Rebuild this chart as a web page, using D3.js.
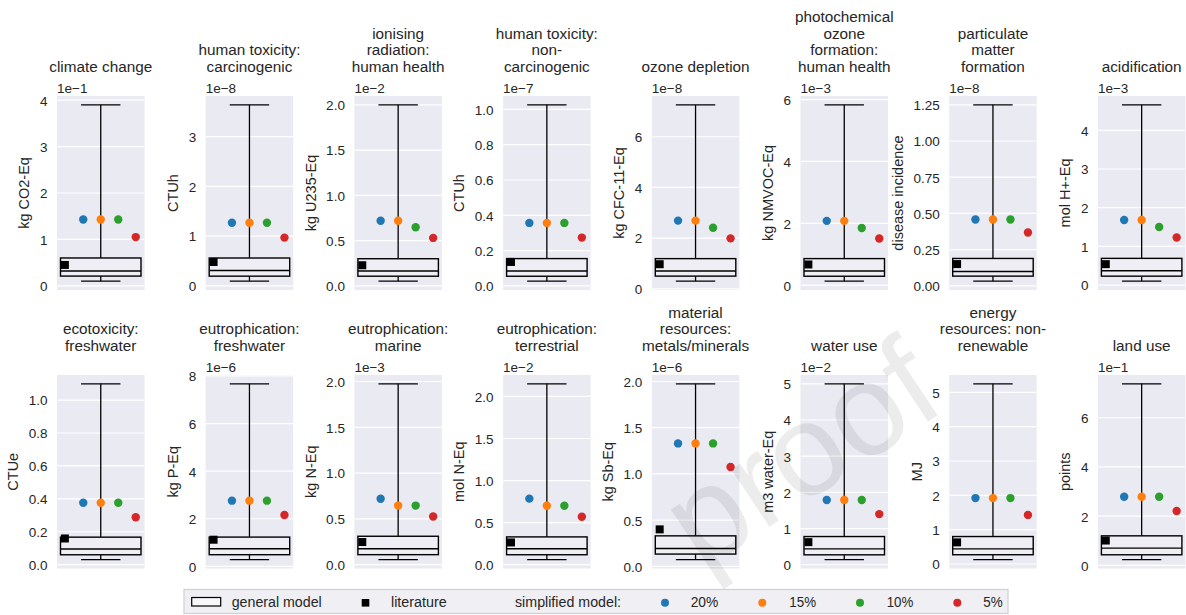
<!DOCTYPE html>
<html><head><meta charset="utf-8">
<script src="https://cdn.jsdelivr.net/npm/d3@7"></script>
<style>
body{margin:0;background:#fff;}
svg{display:block;font-family:"Liberation Sans",Arial,sans-serif;}
</style>
</head><body>
<svg id="chart" width="1186" height="615"></svg>
<script>
// ---------------- data ----------------
const titles = [
  ["climate change"],
  ["human toxicity:", "carcinogenic"],
  ["ionising", "radiation:", "human health"],
  ["human toxicity:", "non-", "carcinogenic"],
  ["ozone depletion"],
  ["photochemical", "ozone", "formation:", "human health"],
  ["particulate", "matter", "formation"],
  ["acidification"],
  ["ecotoxicity:", "freshwater"],
  ["eutrophication:", "freshwater"],
  ["eutrophication:", "marine"],
  ["eutrophication:", "terrestrial"],
  ["material", "resources:", "metals/minerals"],
  ["water use"],
  ["energy", "resources: non-", "renewable"],
  ["land use"]
];
const units = ["kg CO2-Eq", "CTUh", "kg U235-Eq", "CTUh", "kg CFC-11-Eq", "kg NMVOC-Eq",
  "disease incidence", "mol H+-Eq", "CTUe", "kg P-Eq", "kg N-Eq", "mol N-Eq", "kg Sb-Eq",
  "m3 water-Eq", "MJ", "points"];
const offsetLabels = ["1e\u22121", "1e\u22128", "1e\u22122", "1e\u22127", "1e\u22128", "1e\u22123", "1e\u22128", "1e\u22123",
  "", "1e\u22126", "1e\u22123", "1e\u22122", "1e\u22126", "1e\u22122", "", "1e\u22121"];
const tickLabels = [
  ["0", "1", "2", "3", "4"],
  ["0", "1", "2", "3"],
  ["0.0", "0.5", "1.0", "1.5", "2.0"],
  ["0.0", "0.2", "0.4", "0.6", "0.8", "1.0"],
  ["0", "2", "4", "6"],
  ["0", "2", "4", "6"],
  ["0.00", "0.25", "0.50", "0.75", "1.00", "1.25"],
  ["0", "1", "2", "3", "4"],
  ["0.0", "0.2", "0.4", "0.6", "0.8", "1.0"],
  ["0", "2", "4", "6", "8"],
  ["0.0", "0.5", "1.0", "1.5", "2.0"],
  ["0.0", "0.5", "1.0", "1.5", "2.0"],
  ["0.0", "0.5", "1.0", "1.5", "2.0"],
  ["0", "1", "2", "3", "4", "5"],
  ["0", "1", "2", "3", "4", "5"],
  ["0", "2", "4", "6"]
];
// general model box plot (values in axis units, i.e. after the offset factor)
const whiskerLow  = [0.10, 0.094, 0.052, 0.027, 0.30, 0.13, 0.032, 0.10, 0.030, 0.28, 0.054, 0.059, 0.072, 0.14, 0.125, 0.23];
const q1          = [0.21, 0.195, 0.107, 0.055, 0.50, 0.29, 0.067, 0.23, 0.060, 0.49, 0.109, 0.118, 0.133, 0.275, 0.27, 0.43];
const median      = [0.32, 0.31, 0.165, 0.085, 0.70, 0.46, 0.099, 0.37, 0.095, 0.74, 0.174, 0.189, 0.194, 0.44, 0.44, 0.70];
const q3          = [0.60, 0.56, 0.30, 0.155, 1.19, 0.86, 0.189, 0.69, 0.167, 1.23, 0.31, 0.33, 0.33, 0.78, 0.80, 1.20];
const whiskerHigh = [3.90, 3.64, 2.00, 1.026, 7.26, 5.83, 1.25, 4.66, 1.099, 7.67, 1.975, 2.15, 1.975, 5.00, 5.25, 7.38];
const literature  = [0.45, 0.48, 0.228, 0.136, 0.97, 0.67, 0.15, 0.54, 0.159, 1.12, 0.247, 0.264, 0.40, 0.625, 0.63, 1.01];
// simplified model
const sim20 = [1.43, 1.27, 0.72, 0.357, 2.69, 2.08, 0.458, 1.68, 0.376, 2.76, 0.72, 0.785, 1.33, 1.79, 1.92, 2.79];
const sim15 = [1.43, 1.27, 0.72, 0.357, 2.69, 2.08, 0.458, 1.68, 0.376, 2.76, 0.645, 0.70, 1.33, 1.79, 1.92, 2.79];
const sim10 = [1.43, 1.27, 0.647, 0.357, 2.41, 1.85, 0.458, 1.50, 0.376, 2.76, 0.645, 0.70, 1.33, 1.79, 1.92, 2.79];
const sim5  = [1.05, 0.97, 0.53, 0.274, 1.99, 1.51, 0.368, 1.23, 0.288, 2.16, 0.525, 0.57, 1.075, 1.40, 1.43, 2.21];
const simSeries = ["20%", "15%", "10%", "5%"];
const simValues = [sim20, sim15, sim10, sim5];
const simColors = ["#1f77b4", "#ff7f0e", "#2ca02c", "#d62728"];

// ---------------- layout ----------------
const svg = d3.select("#chart");
const W = 87.5;
const rows = [{top: 96, bottom: 290}, {top: 375, bottom: 568.5}];
const textColor = "#262626";
const simOffsets = [-0.2, 0, 0.2, 0.4];

titles.forEach((t, i) => {
  const row = rows[Math.floor(i / 8)];
  const col = i % 8;
  const L = 57 + col * 148.7;
  const x = d3.scaleLinear().domain([-0.5, 0.5]).range([L, L + W]);
  const lo = whiskerLow[i], hi = whiskerHigh[i], r = hi - lo;
  const y = d3.scaleLinear().domain([lo - 0.05 * r, hi + 0.05 * r]).range([row.bottom, row.top]);
  const g = svg.append("g");

  // background
  g.append("rect").attr("x", L).attr("y", row.top).attr("width", W)
    .attr("height", row.bottom - row.top).attr("fill", "#eaeaf2");

  const tv = tickLabels[i].map(Number);
  // grid
  g.selectAll(".grid").data(tv).enter().append("line")
    .attr("x1", L).attr("x2", L + W)
    .attr("y1", d => y(d)).attr("y2", d => y(d))
    .attr("stroke", "#fff").attr("stroke-width", 1.2);

  // axis
  const ax = g.append("g").attr("transform", `translate(${L},0)`)
    .call(d3.axisLeft(y).tickValues(tv).tickFormat((d, j) => tickLabels[i][j]).tickSize(0).tickPadding(9.5));
  ax.select(".domain").remove();
  ax.selectAll("text").attr("font-size", 13.5).attr("fill", textColor)
    .attr("font-family", "'Liberation Sans',Arial,sans-serif").attr("dy", "0.36em");
  let maxW = 0;
  ax.selectAll("text").each(function () { maxW = Math.max(maxW, this.getComputedTextLength()); });

  // y label
  const ym = (row.top + row.bottom) / 2;
  const lx = L - 9.5 - maxW - 10.5;
  g.append("text").attr("transform", `translate(${lx},${ym}) rotate(-90)`)
    .attr("text-anchor", "middle").attr("font-size", 14.5).attr("fill", textColor)
    .text(units[i]);

  // offset text
  if (offsetLabels[i]) {
    g.append("text").attr("x", L).attr("y", row.top - 3.5)
      .attr("font-size", 13.5).attr("fill", textColor).text(offsetLabels[i]);
  }

  // title
  const n = t.length;
  t.forEach((line, k) => {
    g.append("text").attr("x", L + W / 2).attr("y", row.top - 24 - (n - 1 - k) * 16.7)
      .attr("text-anchor", "middle").attr("font-size", 15.3).attr("fill", textColor).text(line);
  });

  // whiskers
  g.append("line").attr("x1", x(0)).attr("x2", x(0)).attr("y1", y(lo)).attr("y2", y(q1[i]))
    .attr("stroke", "#000").attr("stroke-width", 1.3);
  g.append("line").attr("x1", x(0)).attr("x2", x(0)).attr("y1", y(q3[i])).attr("y2", y(hi))
    .attr("stroke", "#000").attr("stroke-width", 1.3);
  [lo, hi].forEach(v => {
    g.append("line").attr("x1", x(-0.225)).attr("x2", x(0.225)).attr("y1", y(v)).attr("y2", y(v))
      .attr("stroke", "#000").attr("stroke-width", 1.3);
  });
  // box
  g.append("rect").attr("x", x(-0.46)).attr("y", y(q3[i]))
    .attr("width", x(0.46) - x(-0.46)).attr("height", y(q1[i]) - y(q3[i]))
    .attr("fill", "#eeeef4").attr("stroke", "#000").attr("stroke-width", 1.4);
  g.append("line").attr("x1", x(-0.46)).attr("x2", x(0.46))
    .attr("y1", y(median[i])).attr("y2", y(median[i]))
    .attr("stroke", "#000").attr("stroke-width", 1.4);

  // literature
  g.append("rect").attr("x", x(-0.41) - 4).attr("y", y(literature[i]) - 4)
    .attr("width", 8).attr("height", 8).attr("fill", "#000");

  // simplified model points
  simValues.forEach((vals, s) => {
    g.append("circle").attr("cx", x(simOffsets[s])).attr("cy", y(vals[i])).attr("r", 4.2)
      .attr("fill", simColors[s]);
  });
});

// ---------------- legend ----------------
const lg = svg.append("g");
lg.append("rect").attr("x", 184).attr("y", 589.5).attr("width", 824).attr("height", 24)
  .attr("fill", "#efeff4").attr("stroke", "#cfcfd4").attr("stroke-width", 1.2);
lg.append("rect").attr("x", 191.7).attr("y", 597.5).attr("width", 29).attr("height", 8.5)
  .attr("fill", "#f7f7f9").attr("stroke", "#000").attr("stroke-width", 1.2);
lg.append("rect").attr("x", 361.7).attr("y", 599).attr("width", 7.6).attr("height", 7.6).attr("fill", "#000");
const legendTexts = [
  {t: "general model", x: 231.7, w: 90},
  {t: "literature", x: 391, w: 55.7},
  {t: "simplified model:", x: 515, w: 106}
];
const simLegendX = [665, 762.3, 860, 957.3];
const simLabelX = [{x: 690.7, w: 27.6}, {x: 789.3, w: 26.7}, {x: 886.7, w: 26.6}, {x: 983.3, w: 19.4}];
simSeries.forEach((s, k) => {
  lg.append("circle").attr("cx", simLegendX[k]).attr("cy", 602.7).attr("r", 4).attr("fill", simColors[k]);
  legendTexts.push({t: s, x: simLabelX[k].x, w: simLabelX[k].w});
});
legendTexts.forEach(d => {
  lg.append("text").attr("x", d.x).attr("y", 607.3).attr("font-size", 15.5).attr("fill", textColor)
    .attr("textLength", d.w).attr("lengthAdjust", "spacingAndGlyphs").text(d.t);
});

// watermark
svg.append("text").attr("transform", "translate(800,452) rotate(-33.5)")
  .attr("text-anchor", "middle").attr("dy", "0.35em")
  .attr("font-size", 130).attr("fill", "#000").attr("fill-opacity", 0.075)
  .text("proof");
</script>
</body></html>
